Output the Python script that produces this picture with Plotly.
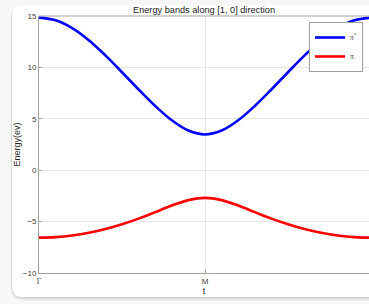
import plotly.graph_objects as go

# path parameter t (Gamma -> M -> Gamma)
t_vals = [0.0, 0.1, 0.2, 0.3, 0.4, 0.5, 0.6, 0.7, 0.8, 0.9, 1.0,
          1.1, 1.2, 1.3, 1.4, 1.5, 1.6, 1.7, 1.8, 1.9, 2.0]
pi_star = [14.84, 14.58, 13.82, 12.65, 11.17, 9.53, 7.85, 6.25, 4.86, 3.86, 3.48,
           3.86, 4.86, 6.25, 7.85, 9.53, 11.17, 12.65, 13.82, 14.58, 14.84]
pi_band = [-6.56, -6.51, -6.35, -6.09, -5.73, -5.26, -4.71, -4.08, -3.44, -2.91, -2.69,
           -2.91, -3.44, -4.08, -4.71, -5.26, -5.73, -6.09, -6.35, -6.51, -6.56]
x_tick_vals = [0, 1]
x_tick_text = ["<span style='font-family:Liberation Serif'>Γ</span>", "M"]
y_tick_vals = [-10, -5, 0, 5, 10, 15]

W, H = 369, 304
L, T, B = 39, 16, 31
PW, PH = W - L, H - T - B


def px(x):
    return (x - L) / PW


def py(y):
    return (H - B - y) / PH


def rrect(x0, y0, x1, y1, r):
    rx, ry = r / PW, r / PH
    X0, X1 = px(x0), px(x1)
    Y0, Y1 = py(y0), py(y1)  # Y0 top, Y1 bottom
    return (f"M {X0+rx},{Y0} L {X1-rx},{Y0} Q {X1},{Y0} {X1},{Y0-ry} "
            f"L {X1},{Y1+ry} Q {X1},{Y1} {X1-rx},{Y1} L {X0+rx},{Y1} "
            f"Q {X0},{Y1} {X0},{Y1+ry} L {X0},{Y0-ry} Q {X0},{Y0} {X0+rx},{Y0} Z")


fig = go.Figure()
fig.add_trace(go.Scatter(x=t_vals, y=pi_star, mode="lines", name="π<sup>*</sup>",
                         line=dict(color="#0000ff", width=2.6, shape="spline")))
fig.add_trace(go.Scatter(x=t_vals, y=pi_band, mode="lines", name="π",
                         line=dict(color="#ff0000", width=2.6, shape="spline")))

shapes = []
# shadow layers
for off, op in [(4, 0.03), (2.5, 0.05), (1.2, 0.07)]:
    shapes.append(dict(type="path", xref="paper", yref="paper", layer="below",
                       path=rrect(12 - off * 0.4, 5, 400, 297 + off, 10 + off),
                       fillcolor=f"rgba(0,0,0,{op})", line=dict(width=0)))
shapes.append(dict(type="path", xref="paper", yref="paper", layer="below",
                   path=rrect(12, 5, 400, 297, 10),
                   fillcolor="white", line=dict(width=0)))
# top box line
shapes.append(dict(type="line", xref="paper", yref="paper", x0=0, x1=1, y0=1, y1=1,
                   line=dict(color="#a0a0a0", width=1), layer="above"))

fig.update_layout(
    width=W, height=H,
    margin=dict(l=L, r=0, t=T, b=B),
    paper_bgcolor="#f7f7f7",
    plot_bgcolor="rgba(0,0,0,0)",
    shapes=shapes,
    font=dict(family="Liberation Sans, Arial, sans-serif", size=8, color="#404040"),
    title=dict(text="Energy bands along [1, 0] direction",
               font=dict(size=9.2, color="#1a1a1a"),
               x=0.5, xref="paper", xanchor="center",
               y=1 - 9.5 / H, yref="container", yanchor="middle"),
    showlegend=True,
    legend=dict(x=px(363), y=py(22), xanchor="right", yanchor="top",
                bgcolor="white", bordercolor="#a0a0a0", borderwidth=1,
                font=dict(family="Liberation Serif, Times New Roman, serif", size=7.5, color="#404040"),
                itemwidth=30, tracegroupgap=0),
)

fig.update_xaxes(range=[0, PW / 166.0], tickvals=x_tick_vals, ticktext=x_tick_text,
                 showgrid=True, gridcolor="#e6e6e6", gridwidth=1,
                 showline=True, linecolor="#a0a0a0", linewidth=1,
                 ticks="inside", ticklen=3, tickcolor="#a0a0a0",
                 zeroline=False, tickfont=dict(size=8, color="#404040"),
                 title=dict(text="t", font=dict(size=9, color="#262626"), standoff=3))
fig.update_yaxes(range=[-10, 15], tickvals=y_tick_vals,
                 showgrid=True, gridcolor="#e6e6e6", gridwidth=1,
                 showline=True, linecolor="#a0a0a0", linewidth=1,
                 ticks="inside", ticklen=3, tickcolor="#a0a0a0",
                 zeroline=False, tickfont=dict(size=8, color="#404040"),
                 title=dict(text="Energy(ev)", font=dict(size=9, color="#262626"), standoff=0))

fig.write_html("out.html", config={"displayModeBar": False},
               post_script="document.body.style.margin='0';document.body.style.padding='0';")
